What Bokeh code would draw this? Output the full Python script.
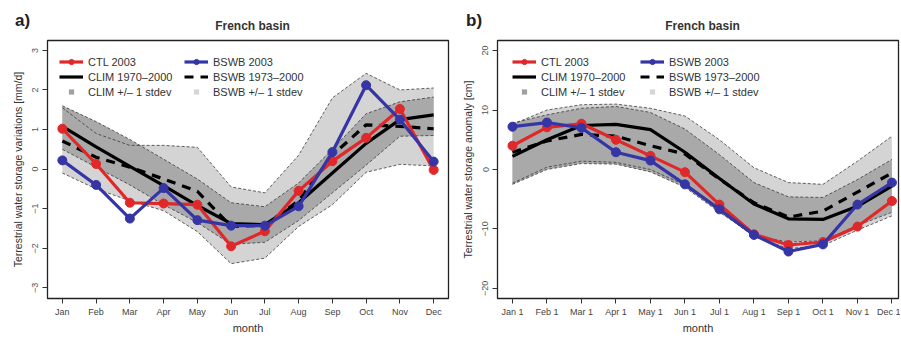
from bokeh.plotting import figure
from bokeh.layouts import row
from bokeh.models import FixedTicker, Legend, LegendItem, Div, ColumnDataSource
from bokeh.embed import file_html
from bokeh.resources import INLINE

# ---------------- data ----------------
month_x = [1, 2, 3, 4, 5, 6, 7, 8, 9, 10, 11, 12]
months_a = ["Jan", "Feb", "Mar", "Apr", "May", "Jun", "Jul", "Aug", "Sep", "Oct", "Nov", "Dec"]
months_b = ["Jan 1", "Feb 1", "Mar 1", "Apr 1", "May 1", "Jun 1", "Jul 1", "Aug 1", "Sep 1", "Oct 1", "Nov 1", "Dec 1"]

# panel a) terrestrial water storage variations [mm/d]
ctl2003_a = [1.02, 0.13, -0.85, -0.87, -0.9, -1.95, -1.57, -0.55, 0.2, 0.79, 1.52, -0.02]
bswb2003_a = [0.22, -0.4, -1.25, -0.48, -1.29, -1.43, -1.43, -0.94, 0.43, 2.12, 1.25, 0.19]
clim_a = [1.08, 0.56, 0.07, -0.42, -0.92, -1.38, -1.4, -0.85, -0.1, 0.65, 1.25, 1.37]
bswbclim_a = [0.71, 0.3, 0.05, -0.25, -0.56, -1.45, -1.42, -0.8, 0.35, 1.12, 1.08, 1.02]
clim_hi_a = [1.6, 1.2, 0.75, 0.25, -0.25, -0.85, -0.95, -0.35, 0.5, 1.4, 1.7, 1.82]
clim_lo_a = [0.5, 0.05, -0.4, -0.9, -1.35, -1.9, -1.85, -1.3, -0.6, 0.1, 0.83, 0.85]
bswb_hi_a = [1.55, 0.9, 0.6, 0.6, 0.55, -0.45, -0.6, 0.35, 1.8, 2.42, 2.0, 2.05]
bswb_lo_a = [-0.1, -0.5, -0.8, -1.05, -1.58, -2.39, -2.25, -1.45, -0.9, -0.08, 0.12, 0.08]
yticks_a = [-3, -2, -1, 0, 1, 2, 3]

# panel b) terrestrial water storage anomaly [cm]
ctl2003_b = [4.0, 7.1, 7.7, 5.0, 2.3, -0.45, -5.9, -10.9, -12.7, -12.2, -9.6, -5.3]
bswb2003_b = [7.2, 7.9, 7.0, 2.9, 1.5, -2.5, -6.7, -11.0, -13.8, -12.6, -5.9, -2.2]
clim_b = [2.2, 5.0, 7.4, 7.6, 6.7, 2.9, -1.5, -5.8, -8.3, -8.4, -6.2, -2.8]
bswbclim_b = [2.9, 4.8, 5.9, 5.6, 4.0, 2.6, -1.6, -5.6, -8.0, -7.0, -3.8, -0.6]
clim_hi_b = [7.8, 9.2, 10.3, 10.6, 9.6, 6.8, 2.5, -2.2, -4.6, -4.7, -1.7, 1.7]
clim_lo_b = [-2.5, 0.0, 1.0, 0.9, -0.4, -3.0, -7.2, -11.1, -12.2, -12.0, -9.4, -7.2]
bswb_hi_b = [7.6, 10.0, 10.9, 11.0, 10.3, 9.0, 5.0, 0.3, -2.2, -2.5, 1.4, 5.6]
bswb_lo_b = [-2.3, 0.4, 1.4, 1.2, 0.0, -2.6, -7.0, -11.3, -13.3, -12.8, -10.2, -7.8]
yticks_b = [-20, -10, 0, 10, 20]

# ---------------- style ----------------
FONT = "Liberation Sans"
RED = "#e0282a"
BLUE = "#3535a5"
DARK = "#a9a9a9"
LIGHT = "#d4d4d4"
EDGE = "#3a3a3a"


def panel(xlabels, yticks, xrange, yrange, ylabel, ctl, bswb, clim, bclim,
          chi, clo, bhi, blo, width, leg_x1, leg_x2):
    p = figure(width=width, height=336, output_backend="svg", toolbar_location=None,
               x_range=xrange, y_range=yrange,
               min_border_left=47, min_border_right=2,
               min_border_top=40, min_border_bottom=34)
    p.grid.visible = False
    p.outline_line_color = "#222222"
    p.outline_line_width = 1.3
    p.background_fill_color = "white"
    p.border_fill_color = "white"

    # bands
    p.varea(x=month_x, y1=blo, y2=bhi, fill_color=LIGHT)
    p.varea(x=month_x, y1=clo, y2=chi, fill_color=DARK)
    for arr in (bhi, blo, chi, clo):
        p.line(month_x, arr, line_color=EDGE, line_width=0.8, line_dash="3 2")

    r_clim = p.line(month_x, clim, line_color="black", line_width=3.2)
    r_bclim = p.line(month_x, bclim, line_color="black", line_width=3.2, line_dash="9 7")
    r_ctl_l = p.line(month_x, ctl, line_color=RED, line_width=3.2)
    r_ctl_c = p.scatter(month_x, ctl, size=9, fill_color=RED, line_color=RED)
    r_bs_l = p.line(month_x, bswb, line_color=BLUE, line_width=3.2)
    r_bs_c = p.scatter(month_x, bswb, size=9, fill_color=BLUE, line_color=BLUE)

    # legend proxies for the stdev bands (no visible data point)
    proxy = ColumnDataSource(data=dict(x=[float("nan")], y=[float("nan")]))
    r_cs = p.scatter("x", "y", source=proxy, marker="square", size=4,
                     fill_color="#a0a0a0", line_color=None)
    r_bs = p.scatter("x", "y", source=proxy, marker="square", size=4,
                     fill_color="#d6d6d6", line_color=None)

    def mk_legend(items, x):
        lg = Legend(items=items, location=(x, 200), orientation="vertical",
                    glyph_height=13, glyph_width=24, label_height=13, spacing=2,
                    padding=4, margin=0, label_standoff=5,
                    label_text_font=FONT, label_text_font_size="11px",
                    label_text_color="#333333",
                    background_fill_alpha=0, border_line_color=None)
        p.add_layout(lg, "center")

    mk_legend([LegendItem(label="CTL 2003", renderers=[r_ctl_l, r_ctl_c]),
               LegendItem(label="CLIM 1970\u20132000", renderers=[r_clim]),
               LegendItem(label="CLIM +/\u2013 1 stdev", renderers=[r_cs], index=0)], leg_x1)
    mk_legend([LegendItem(label="BSWB 2003", renderers=[r_bs_l, r_bs_c]),
               LegendItem(label="BSWB 1973\u20132000", renderers=[r_bclim]),
               LegendItem(label="BSWB +/\u2013 1 stdev", renderers=[r_bs], index=0)], leg_x2)

    # axes
    xa = p.xaxis[0]
    xa.ticker = FixedTicker(ticks=month_x)
    xa.major_label_overrides = {m: s for m, s in zip(month_x, xlabels)}
    xa.minor_tick_line_color = None
    xa.axis_line_color = None
    xa.major_tick_out = 5
    xa.major_tick_in = 0
    xa.major_tick_line_color = "#333333"
    xa.major_label_text_font = FONT
    xa.major_label_text_font_size = "9px"
    xa.major_label_text_color = "#444444"
    xa.major_label_standoff = 3
    xa.axis_label = "month"
    xa.axis_label_text_font = FONT
    xa.axis_label_text_font_size = "11px"
    xa.axis_label_text_font_style = "normal"
    xa.axis_label_text_color = "#333333"
    xa.axis_label_standoff = 2

    ya = p.yaxis[0]
    ya.ticker = FixedTicker(ticks=yticks)
    ya.minor_tick_line_color = None
    ya.axis_line_color = None
    ya.major_tick_out = 5
    ya.major_tick_in = 0
    ya.major_tick_line_color = "#333333"
    ya.major_label_orientation = "vertical"
    ya.major_label_text_font = FONT
    ya.major_label_text_font_size = "9px"
    ya.major_label_text_color = "#555555"
    ya.major_label_standoff = 4
    ya.axis_label = ylabel
    ya.axis_label_text_font = FONT
    ya.axis_label_text_font_size = "10.5px"
    ya.axis_label_text_font_style = "normal"
    ya.axis_label_text_color = "#333333"
    ya.axis_label_standoff = 6
    return p


pa = panel(months_a, yticks_a, (0.56, 12.44), (-3.27, 3.25),
           "Terrestrial water storage variations [mm/d]",
           ctl2003_a, bswb2003_a, clim_a, bswbclim_a,
           clim_hi_a, clim_lo_a, bswb_hi_a, bswb_lo_a, 450, 12, 137)
pb = panel(months_b, yticks_b, (0.566, 12.19), (-21.7, 21.7),
           "Terrestrial water storage anomaly [cm]",
           ctl2003_b, bswb2003_b, clim_b, bswbclim_b,
           clim_hi_b, clim_lo_b, bswb_hi_b, bswb_lo_b, 450, 15, 143)

tag_style = {"font-family": FONT, "font-size": "17px", "font-weight": "bold",
             "color": "#222222", "position": "absolute"}
title_style = {"font-family": FONT, "font-size": "12px", "font-weight": "bold",
               "color": "#333333", "position": "absolute", "text-align": "center"}
div_a = Div(text="a)", styles=dict(tag_style, left="10px", top="4px"))
div_b = Div(text="b)", styles=dict(tag_style, left="461px", top="4px"))
div_ta = Div(text="French basin", width=401,
             styles=dict(title_style, left="47px", top="13px"))
div_tb = Div(text="French basin", width=401,
             styles=dict(title_style, left="497px", top="13px"))

layout = row(pa, pb, div_a, div_b, div_ta, div_tb, spacing=0)
open("out.html", "w").write(file_html(layout, INLINE, title="French basin"))
